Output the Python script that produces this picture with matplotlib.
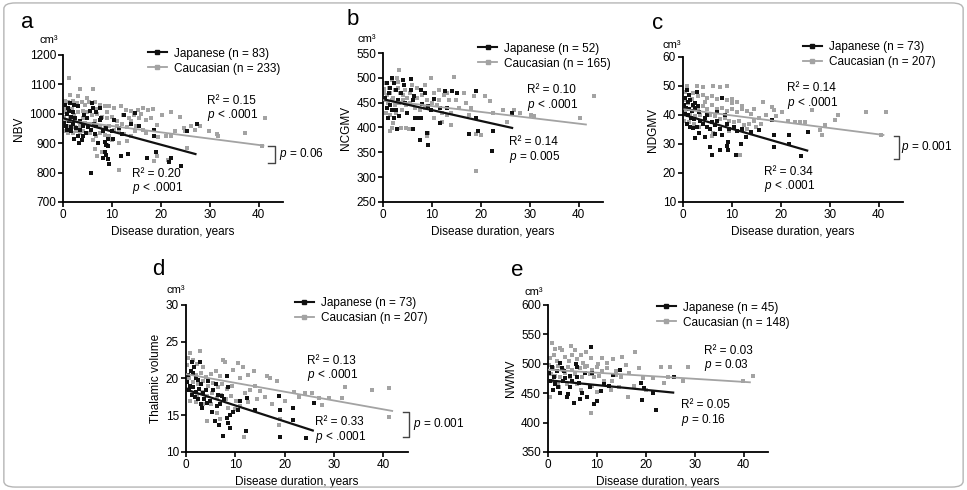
import matplotlib
matplotlib.use("Agg")
import matplotlib.pyplot as plt
from matplotlib.lines import Line2D
from matplotlib.patches import FancyBboxPatch

plt.rcParams["font.family"] = ["Liberation Sans", "DejaVu Sans"]
plt.rcParams["mathtext.fontset"] = "custom"
plt.rcParams["mathtext.rm"] = "Liberation Sans"
plt.rcParams["mathtext.it"] = "Liberation Sans:italic"

BLACK = "#111111"
GREY = "#a3a3a3"

# ---- panel a: NBV ----
a_jp_x = [0.5, 1.0, 1.5, 2.3, 3.0, 0.8, 1.6, 0.7, 1.7, 2.7, 3.5, 4.3, 5.6, 6.0, 6.1, 6.8, 7.5, 7.8, 0.3, 1.7,
          3.4, 3.0, 4.1, 4.7, 5.8, 6.8, 7.5, 8.1, 8.8, 9.2, 8.5, 8.8, 9.2, 8.5, 8.8, 9.2, 5.7, 10.5, 11.5, 12.5,
          13.9, 14.8, 15.6, 13.4, 11.9, 17.2, 19.0, 22.0, 21.7, 24.1, 25.4, 27.5, 18.6, 18.6, 2.0, 1.2, 2.5, 4.0,
          0.9, 3.8, 5.2, 6.5, 7.2, 10.2, 12.0, 1.3, 2.1, 9.5, 8.2, 3.2, 2.2, 5.0, 6.3, 10.0]
a_jp_y = [1030, 1020, 1035, 1030, 1025, 1000, 990, 960, 955, 950, 975, 995, 1010, 1035, 1020, 1005, 1020, 985, 970, 940,
          945, 925, 925, 935, 945, 960, 980, 940, 950, 915, 905, 895, 890, 870, 860, 845, 800, 979, 951, 996,
          966, 1002, 957, 864, 857, 849, 870, 849, 836, 821, 943, 965, 923, 945, 965, 975, 985, 960,
          945, 910, 955, 930, 900, 915, 930, 1010, 1005, 830, 850, 900, 915, 985, 965, 940]
a_cau_x = [1.2, 1.4, 3.4, 6.1, 0.5, 1.0, 2.0, 2.8, 3.8, 4.5, 5.3, 6.5, 7.5, 8.5, 9.5, 10.5, 11.9, 12.2, 12.9, 13.9,
           15.3, 16.3, 17.3, 18.4, 15.6, 16.9, 20.3, 19.3, 16.3, 17.0, 14.8, 13.9, 13.2, 11.5, 10.1, 9.5, 8.5, 7.5,
           6.8, 6.1, 5.5, 4.7, 4.0, 3.4, 2.7, 2.0, 1.0, 0.5, 0.3, 0.8, 1.5, 2.2, 3.0, 4.0, 5.0, 6.0, 7.0, 8.0, 9.0,
           10.0, 11.0, 12.0, 13.0, 14.0, 0.5, 1.8, 2.5, 3.5, 4.5, 5.5, 6.5, 7.5, 8.5, 9.5, 10.5, 11.5, 12.5, 7.0,
           8.0, 6.5, 9.0, 18.6, 19.3, 21.4, 11.5, 21.0, 22.0, 23.0, 24.7, 25.0, 25.4, 26.1, 27.1, 28.1, 29.8, 31.5,
           31.8, 37.3, 40.7, 41.4, 19.5, 22.0, 24.0, 14.5, 18.0, 3.0, 5.0, 0.2, 0.6, 1.4, 2.4, 4.2, 6.8, 9.0, 11.0,
           15.0, 13.5, 16.0]
a_cau_y = [1121, 1064, 1083, 1083, 1045, 1040, 1045, 1035, 1040, 1030, 1040, 1040, 1030, 1025, 1025, 1019, 1027, 996, 1013, 1008,
           1013, 1019, 1013, 1016, 985, 980, 996, 962, 946, 935, 940, 923, 906, 900, 912, 923, 928, 935,
           925, 912, 935, 935, 942, 935, 940, 935, 935, 940, 960, 975, 985, 995, 1005, 1010, 1005, 995, 1000, 990, 985,
           990, 975, 965, 955, 975, 1005, 1015, 975, 960, 970, 965, 975, 955, 950, 960, 945, 940, 930, 855,
           870, 880, 895, 838, 855, 844, 810, 923, 923, 940, 951, 940, 883, 957, 946, 957, 943, 931,
           925, 934, 892, 985, 920, 1005, 990, 995, 985, 1060, 1055, 990, 1020, 960, 955, 985, 1015, 1005, 960,
           960, 985, 1000]

# ---- panel b: NCGMV ----
b_jp_x = [0.8, 1.9, 1.5, 2.6, 3.6, 4.0, 5.7, 5.7, 6.1, 6.4, 7.8, 8.5, 9.2, 9.9, 11.7, 12.7, 14.1, 15.2, 11.7, 1.9,
          2.6, 2.2, 3.3, 1.5, 0.9, 2.9, 6.1, 7.1, 7.8, 8.9, 7.5, 9.2, 17.6, 19.4, 19.0, 22.5, 22.2, 26.4, 19.0, 0.5,
          1.2, 3.0, 4.5, 5.0, 6.5, 1.0, 4.2, 2.2, 8.0, 10.5, 13.0]
b_jp_y = [490, 500, 480, 476, 469, 496, 498, 476, 456, 463, 476, 469, 443, 436, 439, 473, 473, 469, 409, 436,
          436, 419, 423, 446, 440, 396, 396, 419, 419, 389, 375, 364, 386, 392, 419, 392, 352, 429, 473, 460,
          470, 455, 450, 430, 420, 420, 485, 490, 448, 458, 440]
b_cau_x = [3.3, 0.5, 1.2, 2.8, 0.3, 0.8, 1.5, 2.0, 2.5, 3.0, 3.5, 4.0, 4.5, 5.0, 5.5, 0.4, 1.0, 1.8, 2.4, 3.2,
           4.0, 4.8, 5.5, 6.2, 7.0, 8.0, 9.9, 10.5, 11.5, 12.5, 14.5, 13.5, 16.6, 18.7, 20.8, 21.8, 16.9, 15.5,
           14.0, 13.0, 12.0, 11.0, 10.0, 9.0, 8.5, 7.5, 6.5, 0.6, 1.4, 2.6, 3.8, 19.0, 20.1, 19.0, 24.6, 25.3,
           26.7, 30.2, 30.9, 40.3, 43.1, 9.2, 8.9, 1.5, 1.9, 3.6, 4.7, 5.4, 17.5, 22.5, 28.0, 15.0, 7.0, 8.5, 3.0,
           1.8, 0.2, 10.5, 12.0, 14.0, 18.0, 6.0, 2.0, 11.5, 13.0]
b_cau_y = [515, 490, 480, 500, 470, 465, 470, 460, 475, 480, 470, 465, 475, 460, 470, 455, 450, 455, 445, 450,
           455, 445, 450, 455, 460, 465, 500, 470, 475, 465, 502, 455, 469, 463, 463, 453, 449, 440,
           430, 425, 430, 445, 450, 455, 440, 435, 440, 430, 425, 430, 435, 386, 384, 312, 436, 412,
           436, 426, 423, 419, 463, 389, 382, 392, 399, 399, 399, 396, 425, 430, 430, 455, 480, 485, 492,
           495, 478, 420, 412, 405, 440, 485, 410, 455, 470]

# ---- panel c: NDGMV ----
c_jp_x = [0.8, 2.8, 0.5, 1.0, 1.5, 2.0, 2.5, 3.0, 0.6, 1.2, 1.8, 2.4, 3.2, 0.4, 1.0, 1.6, 2.2, 0.8, 1.4, 2.0,
          2.8, 3.5, 4.0, 4.5, 5.0, 5.5, 6.0, 6.5, 7.0, 7.5, 8.0, 8.5, 9.0, 9.5, 10.5, 11.0, 12.0, 3.2, 4.5, 2.5,
          5.5, 5.9, 7.5, 8.9, 9.2, 9.2, 10.9, 11.9, 12.9, 8.0, 6.5, 15.6, 18.3, 18.6, 18.6, 21.7, 21.7, 24.2,
          25.6, 14.0, 7.0, 5.0, 1.3, 0.3]
c_jp_y = [48.6, 48.0, 46, 44.5, 45, 43.5, 44, 43, 42.5, 42, 41.5, 42.5, 41, 40.5, 40, 39, 38.5, 37, 36, 35.5,
          36, 38, 37, 39, 36, 35, 37.5, 36.5, 38, 35, 46, 40, 37, 35, 36, 34.5, 35, 33.7, 32.5, 32,
          29.1, 26.3, 28.0, 29.3, 30.8, 28.0, 26.3, 30.0, 32.5, 33, 33.5, 34.8, 38.3, 33.1, 29.1, 33.1, 30.0, 25.7,
          34.0, 34, 41, 40, 47, 43.5]
c_cau_x = [0.8, 2.8, 4.1, 6.2, 7.5, 8.9, 0.4, 1.2, 2.0, 3.0, 4.0, 5.0, 6.0, 7.0, 8.0, 9.0, 10.0, 11.0, 0.3, 1.0,
           2.0, 3.0, 4.0, 5.0, 6.0, 7.0, 8.0, 9.0, 10.0, 11.0, 12.0, 13.0, 14.0, 0.5, 1.5, 2.5, 3.5, 4.5, 5.5, 6.5,
           7.5, 8.5, 9.5, 10.5, 11.5, 12.5, 13.5, 14.5, 15.5, 0.2, 1.2, 2.2, 3.2, 16.3, 18.3, 18.6, 20.3, 17.0,
           19.0, 21.5, 23.0, 24.0, 25.0, 26.4, 28.1, 28.4, 29.1, 31.1, 31.8, 37.5, 41.5, 40.5, 11.6, 6.2, 5.9,
           13.0, 15.0, 9.5, 10.0, 12.0, 14.5, 4.5, 1.8, 16.0]
c_cau_y = [50, 50, 49.8, 50, 49.5, 50, 48, 47, 47.5, 46.5, 47, 46, 46.5, 45.5, 46, 45, 45.5, 44.5, 45, 44,
           43, 42.5, 43, 42, 43.5, 42, 42.5, 41.5, 42, 41, 42, 41.5, 40.5, 41, 40, 39.5, 40, 39, 40, 39.5,
           38.5, 39, 38, 37.5, 38, 36.5, 37, 38, 39, 38, 37.5, 37, 36, 44.6, 42.8, 41.8, 41.1, 40,
           39.5, 38, 37.7, 37.7, 37.7, 41.7, 34.8, 33.1, 36.5, 38.3, 40.0, 41.1, 41.1, 33.1, 26.3, 33.7, 32.8,
           35, 36, 34.5, 44, 43, 42, 44.5, 45.5, 37]

# ---- panel d: thalamic volume ----
d_jp_x = [1.2, 2.8, 0.5, 1.0, 1.5, 2.0, 2.5, 3.0, 0.3, 0.8, 1.4, 2.0, 2.6, 3.4, 0.6, 1.2, 1.8, 2.4, 3.0, 3.6,
          4.2, 4.8, 3.2, 5.2, 5.9, 6.6, 7.5, 8.3, 8.6, 8.9, 9.6, 10.6, 12.2, 12.3, 14.0, 8.6, 8.3, 7.3, 7.8, 6.0,
          5.5, 4.0, 6.3, 7.0, 9.0, 18.8, 19.0, 19.0, 21.7, 21.7, 24.3, 25.9, 1.6, 4.5, 11.0, 6.5]
d_jp_y = [22.3, 22.3, 20.5, 21, 20.8, 20, 19.8, 19.3, 19.5, 19, 18.8, 18.2, 18.6, 18, 18.5, 17.8, 17.5, 17.2, 16.5, 17.2,
          16.6, 17, 16, 15.5, 14.2, 13.7, 12.2, 14.6, 13.9, 13.3, 15.5, 15.7, 12.9, 17.3, 15.7, 18.9, 20.3, 17.6, 17.2, 19.2,
          18.5, 18.5, 16.2, 16.5, 15, 17.6, 15.7, 12.1, 16.0, 14.4, 11.9, 16.7, 21.5, 19.6, 17, 17.8]
d_cau_x = [2.8, 0.8, 0.5, 1.5, 2.2, 3.5, 0.3, 1.0, 2.0, 3.0, 4.0, 5.0, 6.0, 7.0, 0.6, 1.4, 2.4, 3.4, 4.4, 5.4,
           6.4, 7.4, 8.4, 9.4, 0.4, 1.2, 2.2, 3.2, 4.2, 5.2, 6.2, 7.2, 8.2, 9.2, 10.2, 0.8, 2.0, 3.5, 7.6, 8.0,
           10.6, 11.5, 9.5, 13.7, 12.5, 11.0, 16.4, 17.0, 18.4, 14.0, 15.0, 13.0, 12.0, 16.0, 14.5, 12.5, 11.0,
           10.0, 21.8, 24.2, 25.6, 26.9, 27.6, 28.9, 31.7, 32.3, 37.8, 41.2, 41.2, 18.8, 11.7, 4.2, 6.2, 5.0,
           8.5, 20.0, 23.0, 17.5, 19.0, 7.0]
d_cau_y = [23.8, 23.4, 22.8, 22.5, 22, 21.5, 21.8, 21, 20.5, 20.8, 20.2, 20.6, 21, 20.3, 20, 19.5, 19.2, 19.6, 19, 19.4,
           18.8, 19.2, 18.6, 19, 18.6, 18, 17.8, 18.2, 17.6, 18, 17.4, 17.8, 17.2, 17.6, 17, 17, 16.8, 16.5, 22.5, 22.2,
           22.1, 21.5, 21.2, 21.0, 20.5, 20, 20.3, 20.1, 19.6, 19, 18.3, 18.5, 18, 17.5, 17.2, 16.8, 16.2,
           15.8, 18.2, 18.0, 18.0, 17.3, 16.4, 17.3, 17.3, 18.9, 18.5, 18.7, 14.8, 13.7, 12.1, 14.2, 15.3, 16.5,
           16, 17, 17.5, 16.5, 14.5, 14.5]

# ---- panel e: NWMV ----
e_jp_x = [0.8, 1.2, 2.5, 2.9, 3.2, 2.0, 2.5, 3.9, 4.6, 5.3, 6.0, 6.0, 6.3, 7.0, 8.0, 8.7, 9.1, 10.1, 10.8, 13.2,
          14.7, 19.0, 19.3, 19.7, 21.4, 22.1, 25.7, 0.5, 1.5, 3.5, 4.5, 5.0, 1.8, 7.5, 4.0, 9.5, 8.5, 11.5, 6.5,
          3.0, 1.0, 12.5, 0.3, 5.8]
e_jp_y = [495, 478, 501, 493, 487, 461, 450, 444, 461, 433, 495, 478, 467, 450, 444, 529, 484, 436, 453, 481,
          490, 467, 439, 459, 450, 422, 478, 470, 465, 475, 480, 470, 488, 485, 448, 432, 460, 466, 440,
          470, 455, 462, 485, 500]
e_cau_x = [0.8, 2.5, 2.9, 5.6, 6.7, 8.7, 11.1, 13.2, 15.2, 17.8, 18.7, 23.1, 25.0, 28.6, 27.6, 23.8, 21.4, 20.0,
           16.3, 13.9, 12.8, 8.7, 39.9, 42.0, 0.5, 2.2, 0.4, 1.2, 1.8, 3.5, 4.2, 5.0, 6.0, 7.2, 8.0, 0.3, 1.0, 2.0,
           3.0, 4.0, 5.0, 6.5, 7.5, 9.0, 10.0, 11.0, 12.0, 0.6, 1.5, 2.5, 3.5, 4.5, 5.5, 7.0, 8.5, 9.5, 10.5, 14.0,
           15.0, 16.5, 0.8, 2.0, 3.8, 6.0, 9.0, 11.5, 13.0, 14.5, 17.5, 10.0, 6.8, 19.5, 24.5, 16.0, 4.8, 7.8,
           10.2, 12.0, 1.5]
e_cau_y = [535, 526, 523, 524, 515, 509, 509, 508, 511, 520, 493, 494, 494, 494, 470, 467, 476, 456,
           444, 481, 456, 416, 471, 480, 444, 461, 510, 515, 505, 512, 505, 515, 508, 502, 497, 498, 492, 496,
           490, 495, 490, 492, 494, 490, 495, 488, 492, 482, 480, 477, 485, 478, 483, 478, 482, 477, 480, 487,
           478, 485, 470, 468, 466, 465, 462, 470, 470, 460, 462, 452, 455, 475, 478, 498, 530, 520,
           500, 501, 525]

# regression lines: (x start, x end, intercept, slope)
fit_jp = {"a": (0.3, 27.1, 985, -4.5), "b": (0.5, 26.4, 457, -2.19), "c": (0.5, 25.4, 40.1, -0.487),
          "d": (0.2, 25.7, 18.5, -0.217), "e": (0.8, 25.6, 472, -0.82)}
fit_cau = {"a": (0.0, 41.0, 980, -2.15), "b": (0.0, 41.5, 455, -1.18), "c": (0.3, 41.0, 42.0, -0.217),
           "d": (0.2, 41.8, 20.6, -0.12), "e": (0.2, 41.3, 490, -0.52)}

n_jp = {"a": 83, "b": 52, "c": 73, "d": 73, "e": 45}
n_cau = {"a": 233, "b": 165, "c": 207, "d": 207, "e": 148}
ylabels = {"a": "NBV", "b": "NCGMV", "c": "NDGMV", "d": "Thalamic volume", "e": "NWMV"}
yticks = {"a": [700, 800, 900, 1000, 1100, 1200], "b": [250, 300, 350, 400, 450, 500, 550],
          "c": [10, 20, 30, 40, 50, 60], "d": [10, 15, 20, 25, 30], "e": [350, 400, 450, 500, 550, 600]}
stats_cau = {"a": ("0.15", "< .0001"), "b": ("0.10", "< .0001"), "c": ("0.14", "< .0001"),
             "d": ("0.13", "< .0001"), "e": ("0.03", "= 0.03")}
stats_jp = {"a": ("0.20", "< .0001"), "b": ("0.14", "= 0.005"), "c": ("0.34", "< .0001"),
            "d": ("0.33", "< .0001"), "e": ("0.05", "= 0.16")}
p_between = {"a": "0.06", "c": "0.001", "d": "0.001"}

# layout (figure fractions / data positions of annotations)
axes_pos = {"a": [0.0651, 0.5878, 0.2275, 0.300], "b": [0.3961, 0.5878, 0.2275, 0.304],
            "c": [0.7063, 0.5878, 0.2275, 0.296], "d": [0.1923, 0.0776, 0.2296, 0.300],
            "e": [0.5667, 0.0776, 0.2275, 0.300]}
letter_pos = {"a": (0.028, 0.955), "b": (0.365, 0.960), "c": (0.680, 0.953),
              "d": (0.164, 0.449), "e": (0.535, 0.447)}
legend_anchor = {"a": (0.386, 1.05), "b": (0.432, 1.07), "c": (0.545, 1.11),
                 "d": (0.491, 1.055), "e": (0.495, 1.023)}
cm3_pos = {"a": (-0.105, 1.10), "b": (-0.114, 1.094), "c": (-0.095, 1.083),
           "d": (-0.086, 1.10), "e": (-0.105, 1.09)}
# left x and vertical centre of the two-line R²/p blocks (data units)
txt_cau = {"a": (29.5, 1016), "b": (29.5, 458), "c": (21.3, 46.3),
           "d": (24.5, 21.3), "e": (31.9, 508)}
txt_jp = {"a": (14.2, 768), "b": (25.7, 354), "c": (16.6, 17.6),
          "d": (26.2, 12.9), "e": (27.2, 415)}
bracket = {"a": (42.0, 43.3, 892, 832, 44.1), "c": (43.2, 44.2, 32.8, 24.8, 44.6),
           "d": (43.9, 45.2, 15.5, 12.1, 46.1)}

data = {"a": (a_jp_x, a_jp_y, a_cau_x, a_cau_y), "b": (b_jp_x, b_jp_y, b_cau_x, b_cau_y),
        "c": (c_jp_x, c_jp_y, c_cau_x, c_cau_y), "d": (d_jp_x, d_jp_y, d_cau_x, d_cau_y),
        "e": (e_jp_x, e_jp_y, e_cau_x, e_cau_y)}

FS = 8.5

fig = plt.figure(figsize=(9.67, 4.9), dpi=100)
fig.patches.append(FancyBboxPatch((0.004, 0.006), 0.992, 0.988, boxstyle="round,pad=0,rounding_size=0.012",
                                  transform=fig.transFigure, fill=False, ec="#b5b5b5", lw=1.0))

for key in "abcde":
    ax = fig.add_axes(axes_pos[key])
    jx, jy, cx, cy = data[key]
    ax.scatter(cx, cy, s=6, color=GREY, marker="s", lw=0, zorder=2)
    ax.scatter(jx, jy, s=6, color=BLACK, marker="s", lw=0, zorder=3)
    for fit, col, lw in ((fit_cau[key], GREY, 1.3), (fit_jp[key], BLACK, 1.6)):
        x0, x1, b0, b1 = fit
        ax.plot([x0, x1], [b0 + b1 * x0, b0 + b1 * x1], color=col, lw=lw, zorder=4)

    yt = yticks[key]
    ax.set_xlim(0, 45)
    ax.set_ylim(yt[0], yt[-1])
    ax.set_xticks([0, 10, 20, 30, 40])
    ax.set_yticks(yt)
    for s in ("top", "right"):
        ax.spines[s].set_visible(False)
    for s in ("left", "bottom"):
        ax.spines[s].set_linewidth(1.3)
    ax.tick_params(direction="out", length=3.5, width=1.2, labelsize=FS, pad=1.5)
    ax.set_xlabel("Disease duration, years", fontsize=FS, labelpad=4)
    ax.set_ylabel(ylabels[key], fontsize=FS, labelpad=3)
    ax.text(*cm3_pos[key], "cm³", transform=ax.transAxes, fontsize=FS - 0.5, ha="left", va="center")

    handles = [Line2D([], [], color=BLACK, lw=1.5, marker="s", ms=2.5),
               Line2D([], [], color=GREY, lw=1.3, marker="s", ms=2.5)]
    ax.legend(handles, [f"Japanese (n = {n_jp[key]})", f"Caucasian (n = {n_cau[key]})"],
              loc="upper left", bbox_to_anchor=legend_anchor[key], frameon=False, fontsize=FS,
              handlelength=1.6, handletextpad=0.6, labelspacing=0.25, borderpad=0, borderaxespad=0)

    tx, ty = txt_cau[key]
    ax.text(tx, ty, f"R² = {stats_cau[key][0]}\n$p$ {stats_cau[key][1]}", fontsize=FS,
            va="center", ha="left", linespacing=1.05)
    tx, ty = txt_jp[key]
    ax.text(tx, ty, f"R² = {stats_jp[key][0]}\n$p$ {stats_jp[key][1]}", fontsize=FS,
            va="center", ha="left", linespacing=1.05)

    if key in bracket:
        bx0, bx1, btop, bbot, tx = bracket[key]
        ax.plot([bx0, bx1, bx1, bx0], [btop, btop, bbot, bbot], color="#444444", lw=1.0, clip_on=False)
        ax.text(tx, (btop + bbot) / 2, f"$p$ = {p_between[key]}", fontsize=FS, va="center", ha="left",
                clip_on=False)

    fig.text(*letter_pos[key], key, fontsize=16, ha="center", va="center")

fig.savefig("out.png", dpi=100)
